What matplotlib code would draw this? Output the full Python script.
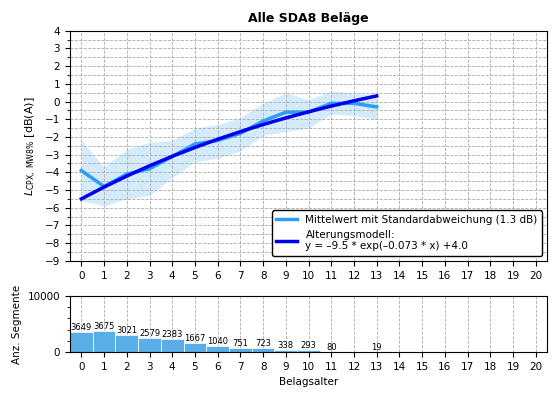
import numpy as np
import matplotlib
matplotlib.use("Agg")
import matplotlib.pyplot as plt

ages = list(range(14))
mean = [-3.9, -4.8, -4.1, -3.8, -3.1, -2.4, -2.2, -1.8, -1.1, -0.6, -0.6, -0.1, -0.1, -0.3]
upper = [-2.2, -3.7, -2.7, -2.3, -2.2, -1.5, -1.3, -0.9, -0.1, 0.5, 0.1, 0.6, 0.5, 0.3]
lower = [-5.6, -5.9, -5.5, -5.3, -4.3, -3.4, -3.2, -2.8, -1.9, -1.7, -1.5, -0.7, -0.8, -1.0]
counts = [3649, 3675, 3021, 2579, 2383, 1667, 1040, 751, 723, 338, 293, 80, 0, 19]
model_a, model_b, model_c = -9.5, -0.073, 4.0

fig = plt.figure(figsize=(5.6, 4.0), dpi=100)
ax = fig.add_axes([0.125, 0.348, 0.852, 0.575])
ax2 = fig.add_axes([0.125, 0.12, 0.852, 0.14])

ax.fill_between(ages, lower, upper, color='#2a9df4', alpha=0.2, lw=0)
ax.plot(ages, mean, color='#2a9df4', lw=2.5,
        label='Mittelwert mit Standardabweichung (1.3 dB)')
xm = np.array(ages, dtype=float)
ax.plot(xm, model_a*np.exp(model_b*xm)+model_c, color='#0000ee', lw=2.5,
        label='Alterungsmodell:\ny = –9.5 * exp(–0.073 * x) +4.0')
ax.set_xlim(-0.5, 20.5)
ax.set_ylim(-9, 4)
ax.set_xticks(range(21))
ax.set_yticks(range(-9, 5))
ax.set_yticks(np.arange(-9, 4, 0.5), minor=True)
ax.grid(True, which='both', ls='--', color='#aaaaaa', lw=0.6)
ax.set_title('Alle SDA8 Beläge', fontsize=9, fontweight='bold')
ax.set_ylabel(r'$L_{\mathrm{CPX,\ MW8\%}}$ [dB(A)]', fontsize=8)
ax.tick_params(labelsize=7.5)
leg = ax.legend(loc='lower right', fontsize=7.5, framealpha=1, edgecolor='black')

bars = ax2.bar(ages, counts, width=1.0, color='#5aaee8', edgecolor='white', lw=0.5)
for x, c in zip(ages, counts):
    if c > 0:
        ax2.text(x, c, str(c), ha='center', va='bottom', fontsize=6)
ax2.set_xlim(-0.5, 20.5)
ax2.set_ylim(0, 10000)
ax2.set_xticks(range(21))
ax2.set_yticks([0, 10000])
ax2.set_yticks(np.arange(0, 10001, 2000), minor=True)
ax2.grid(True, which='major', ls='--', color='#aaaaaa', lw=0.6)
ax2.set_axisbelow(True)
ax2.tick_params(labelsize=7.5)
ax2.set_xlabel('Belagsalter', fontsize=7.5)
ax2.set_ylabel('Anz. Segmente', fontsize=7.5)
fig.savefig('out.png', dpi=100)
